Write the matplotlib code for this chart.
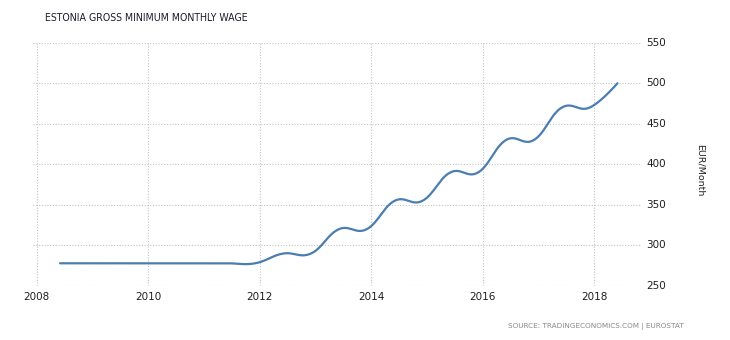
import numpy as np
import matplotlib
matplotlib.use("Agg")
import matplotlib.pyplot as plt

# semi-annual observations (June / December), EUR per month
dates = [2008.42, 2008.92, 2009.42, 2009.92, 2010.42, 2010.92, 2011.42, 2011.92,
         2012.42, 2012.92, 2013.42, 2013.92, 2014.42, 2014.92, 2015.42, 2015.92,
         2016.42, 2016.92, 2017.42, 2017.92, 2018.42]
wage = [278.02, 278.02, 278.02, 278.02, 278.02, 278.02, 278.02, 278.02,
        290, 290, 320, 320, 355, 355, 390, 390,
        430, 430, 470, 470, 500]
x_ticks = [2008, 2010, 2012, 2014, 2016, 2018]
y_ticks = [250, 300, 350, 400, 450, 500, 550]


# spline like the web chart: bezier segments, tangent parallel to neighbours
def spline(xs, ys, smoothing=1.5, steps=30):
    n = len(xs)
    left = [(xs[i], ys[i]) for i in range(n)]
    right = [(xs[i], ys[i]) for i in range(n)]
    d = smoothing + 1
    for i in range(1, n - 1):
        x, y = xs[i], ys[i]
        lcx = (smoothing * x + xs[i - 1]) / d
        lcy = (smoothing * y + ys[i - 1]) / d
        rcx = (smoothing * x + xs[i + 1]) / d
        rcy = (smoothing * y + ys[i + 1]) / d
        corr = (rcy - lcy) * (rcx - x) / (rcx - lcx) + y - rcy
        left[i] = (lcx, lcy + corr)
        right[i] = (rcx, rcy + corr)
    t = np.linspace(0, 1, steps)
    px, py = [], []
    for i in range(1, n):
        p0 = np.array([xs[i - 1], ys[i - 1]])
        p1 = np.array(right[i - 1])
        p2 = np.array(left[i])
        p3 = np.array([xs[i], ys[i]])
        seg = ((1 - t) ** 3)[:, None] * p0 + (3 * (1 - t) ** 2 * t)[:, None] * p1 \
            + (3 * (1 - t) * t ** 2)[:, None] * p2 + (t ** 3)[:, None] * p3
        px.extend(seg[:, 0])
        py.extend(seg[:, 1])
    return px, py


plt.rcParams['font.family'] = ['DejaVu Sans']

fig = plt.figure(figsize=(7.3, 3.4), dpi=100)
ax = fig.add_axes([33 / 730, 1 - 286 / 340, (642 - 33) / 730, (286 - 42.7) / 340])

sx, sy = spline(dates, wage)
ax.plot(sx, sy, color='#4a7eb0', lw=1.6, solid_capstyle='round')

ax.set_xlim(2007.934, 2018.86)
ax.set_ylim(250, 550)
ax.set_xticks(x_ticks)
ax.set_yticks(y_ticks)
ax.yaxis.tick_right()
ax.grid(True, color='#c4c4c4', linestyle=(0, (1, 1.5)), lw=0.8)
for s in ax.spines.values():
    s.set_visible(False)
ax.tick_params(length=0, labelsize=7.5, labelcolor='#1e1e1e', pad=4)
ax.tick_params(axis='y', pad=3)
for lab in ax.get_yticklabels():
    lab.set_verticalalignment('center')

fig.text(45 / 730, 1 - 18.3 / 340, 'ESTONIA GROSS MINIMUM MONTHLY WAGE', fontsize=7.6,
         color='#1c1c30', ha='left', va='center', fontstretch='condensed')
fig.text(700 / 730, 1 - 170 / 340, 'EUR/Month', fontsize=6.8, color='#222222',
         rotation=-90, ha='center', va='center')
fig.text(684 / 730, 1 - 326 / 340, 'SOURCE: TRADINGECONOMICS.COM | EUROSTAT', fontsize=5.2,
         color='#888888', ha='right', va='center')

fig.savefig('out.png', dpi=100)
